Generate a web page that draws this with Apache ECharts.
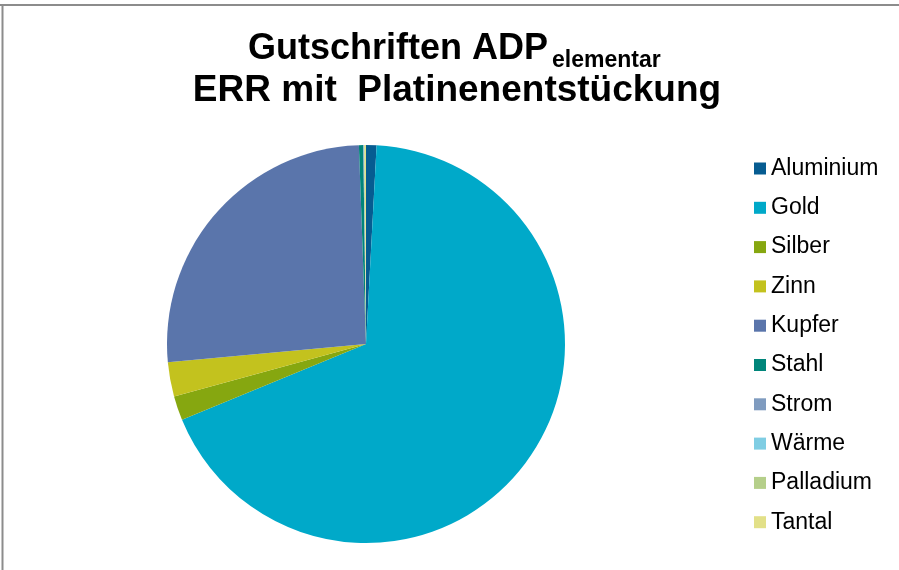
<!DOCTYPE html>
<html>
<head>
<meta charset="utf-8">
<script src="https://cdn.jsdelivr.net/npm/echarts@6/dist/echarts.min.js"></script>
<style>
html,body{margin:0;padding:0;background:#fff;}
#c{width:899px;height:570px;}
</style>
</head>
<body>
<div id="c"></div>
<script>
const categories = ['Aluminium','Gold','Silber','Zinn','Kupfer','Stahl','Strom','Wärme','Palladium','Tantal'];
const values = [0.85, 67.96, 1.97, 2.78, 25.91, 0.35, 0.04, 0.02, 0.05, 0.11];
const colors = ['#065c91','#00a9c9','#86a710','#c3c21e','#5a75ab','#00857a','#7f9bbf','#7fcde3','#b5cf8a','#e2e088'];
const titleLine1 = 'Gutschriften ADP';
const titleSub = 'elementar';
const titleLine2 = 'ERR mit  Platinenentstückung';

const chart = echarts.init(document.getElementById('c'), null, {renderer:'canvas'});
const font = '"Liberation Sans", Arial, sans-serif';
chart.setOption({
  animation: false,
  backgroundColor: '#ffffff',
  color: colors,
  graphic: [
    {type:'line', shape:{x1:0,y1:5,x2:899,y2:5}, style:{stroke:'#8c8c8c', lineWidth:2}},
    {type:'line', shape:{x1:2.5,y1:5,x2:2.5,y2:570}, style:{stroke:'#8c8c8c', lineWidth:2}},
    {type:'text', x:248, y:49, style:{text:titleLine1, font:'bold 36px ' + font, fill:'#000', textAlign:'left', textVerticalAlign:'middle'}},
    {type:'text', x:552, y:61, style:{text:titleSub, font:'bold 23px ' + font, fill:'#000', textAlign:'left', textVerticalAlign:'middle'}},
    {type:'text', x:457, y:91, style:{text:titleLine2, font:'bold 37px ' + font, fill:'#000', textAlign:'center', textVerticalAlign:'middle'}}
  ],
  legend: {
    orient: 'vertical',
    left: 749,
    top: 152,
    icon: 'rect',
    itemWidth: 12,
    itemHeight: 12,
    itemGap: 16.3,
    selectedMode: false,
    textStyle: {fontFamily: font, fontSize: 23, color: '#000', lineHeight: 22, padding:[0,0,0,0]},
    data: categories
  },
  series: [{
    type: 'pie',
    center: [366, 344],
    radius: [0, 199],
    startAngle: 90,
    clockwise: true,
    label: {show:false},
    labelLine: {show:false},
    emphasis: {disabled:true},
    itemStyle: {borderWidth:0},
    data: categories.map((n,i)=>({name:n, value:values[i]}))
  }]
});
</script>
</body>
</html>
